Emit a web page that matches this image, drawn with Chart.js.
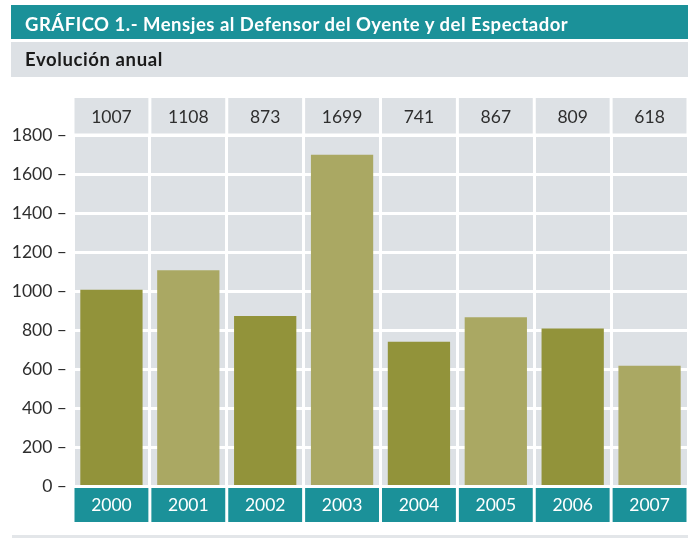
<!DOCTYPE html>
<html><head><meta charset="utf-8">
<script src="https://cdn.jsdelivr.net/npm/chart.js@4.4.0/dist/chart.umd.min.js"></script>
<style>
html,body{margin:0;padding:0;background:#fff;width:688px;height:538px;overflow:hidden;position:relative;font-family:Lato,sans-serif}
#wrap{position:absolute;left:0;top:0;width:688px;height:538px}
#title{position:absolute;left:11px;top:5px;width:677px;height:34px;background:#1b9199}
#sub{position:absolute;left:11px;top:42px;width:677px;height:35px;background:#dde1e5}
.t{position:absolute;left:25px;font-weight:700;font-size:18.5px;letter-spacing:0.5px;line-height:1;white-space:nowrap}
#foot{position:absolute;left:12px;top:535px;right:0;height:3px;background:#e3e6e9}
</style></head><body>
<div id="wrap"><canvas id="c" width="688" height="538"></canvas></div>
<div id="title"></div><div id="sub"></div>
<div class="t" style="top:14.6px;color:#fff">GRÁFICO 1.- Mensjes al Defensor del Oyente y del Espectador</div>
<div class="t" style="top:49.6px;color:#1a1a1a;letter-spacing:0.6px">Evolución anual</div>
<div id="foot"></div>
<script>
const years = ['2000','2001','2002','2003','2004','2005','2006','2007'];
const mensajes = [1007, 1108, 873, 1699, 741, 867, 809, 618];
const valueLabels = mensajes.map(v => String(v));
const yTickValues = [0, 200, 400, 600, 800, 1000, 1200, 1400, 1600, 1800];

const GRAY = '#dde1e5', TEAL = '#1b9199', DARK = '#92933a', LIGHT = '#aaa863', TXT = '#2e2e2e';
const barColors = years.map((_, i) => i % 2 === 0 ? DARK : LIGHT);
const FONT = {family: 'Lato', size: 17.5};

const cellPlugin = {
  id: 'cells',
  beforeDraw(chart) {
    const {ctx, chartArea: a, scales: {x}} = chart;
    ctx.save();
    ctx.fillStyle = GRAY;
    ctx.fillRect(a.left, a.top, a.right - a.left, a.bottom - a.top);
    const w = x.getPixelForValue(1) - x.getPixelForValue(0);
    years.forEach((_, i) => {
      const c = x.getPixelForValue(i);
      const l = c - w / 2 + 1.5, r = c + w / 2 - 1.5;
      ctx.fillStyle = GRAY;
      ctx.fillRect(l, a.top - 37, r - l, 35.5);
      ctx.fillStyle = TEAL;
      ctx.fillRect(l, a.bottom + 1.5, r - l, 34);
    });
    ctx.restore();
  }
};

new Chart(document.getElementById('c'), {
  type: 'bar',
  data: {
    labels: years,
    datasets: [{data: mensajes, backgroundColor: barColors, borderWidth: 0,
      barPercentage: 0.81, categoryPercentage: 1}]
  },
  options: {
    responsive: false, animation: false,
    layout: {padding: 0},
    plugins: {legend: {display: false}, tooltip: {enabled: false}, title: {display: false}},
    scales: {
      x: {
        position: 'bottom', offset: true,
        grid: {color: '#ffffff', lineWidth: 3, offset: true, drawTicks: false},
        border: {display: false},
        ticks: {color: '#ffffff', font: FONT, padding: 8, maxRotation: 0},
        afterFit(s) { s.height = 51.5; }
      },
      xTop: {
        type: 'category', position: 'top', labels: valueLabels, offset: true,
        grid: {display: false, drawTicks: false},
        border: {display: false},
        ticks: {color: TXT, font: FONT, padding: 7, maxRotation: 0},
        afterFit(s) { s.height = 135; }
      },
      y: {
        min: 0, max: 1800,
        afterBuildTicks(s) { s.ticks = yTickValues.map(v => ({value: v})); },
        grid: {color: '#ffffff', lineWidth: 3, drawTicks: false},
        border: {display: false},
        ticks: {color: TXT, font: FONT, padding: 6, callback: v => v + ' \u2013'},
        afterFit(s) { s.width = 73; }
      }
    }
  },
  plugins: [cellPlugin]
});
</script>
</body></html>
